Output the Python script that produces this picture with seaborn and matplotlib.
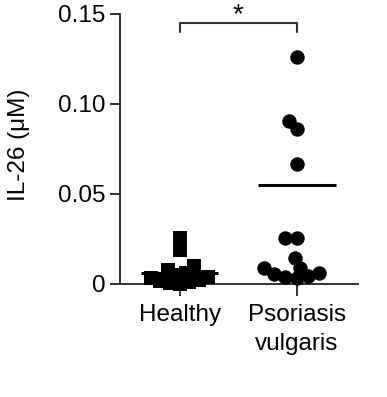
import numpy as np
import pandas as pd
import seaborn as sns
import matplotlib.pyplot as plt
from matplotlib.transforms import Affine2D

# -------------------------------------------------------------------
# Data (IL-26 concentration, µM)
# -------------------------------------------------------------------
groups = ["Healthy", "Psoriasis\nvulgaris"]

healthy = [0.0, 0.0005, 0.001, 0.0015, 0.002, 0.003, 0.004, 0.005,
           0.006, 0.0078, 0.0097, 0.0189, 0.0254]
psoriasis = [0.003, 0.004, 0.0045, 0.0056, 0.0063, 0.0089, 0.0089,
             0.0143, 0.0254, 0.0254, 0.0667, 0.086, 0.0906, 0.126]

# horizontal bars as drawn in the figure
bar_values = [0.006, 0.055]

df = pd.DataFrame({
    "group": [groups[0]] * len(healthy) + [groups[1]] * len(psoriasis),
    "il26": healthy + psoriasis,
})

# -------------------------------------------------------------------
# Plot
# -------------------------------------------------------------------
sns.set_style("ticks")
plt.rcParams["font.family"] = ["Liberation Sans", "DejaVu Sans"]
plt.rcParams["text.color"] = "black"
plt.rcParams["axes.labelcolor"] = "black"
plt.rcParams["xtick.color"] = "black"
plt.rcParams["ytick.color"] = "black"

fig = plt.figure(figsize=(3.87, 3.97), dpi=100)
ax = fig.add_axes([0.31, 0.285, 0.615, 0.68])

# swarm layout is computed with a smaller marker so the points overlap
# like in the original figure; the drawn marker is then enlarged
markers = ["s", "o"]
layout_sizes = [6.8, 8.0]
scales = [1.45, 1.3]
for grp, mk, sz, s in zip(groups, markers, layout_sizes, scales):
    n0 = len(ax.collections)
    sns.swarmplot(data=df[df["group"] == grp], x="group", y="il26",
                  order=groups, marker=mk, color="black", size=sz,
                  linewidth=0, ax=ax)
    for coll in ax.collections[n0:]:
        coll.set_clip_on(False)
        if len(coll.get_paths()):
            p = coll.get_paths()[0]
            coll.set_paths([p.transformed(Affine2D().scale(s))])

# mean bars
ax.hlines(bar_values, [i - 0.33 for i in range(2)], [i + 0.33 for i in range(2)],
          color="black", linewidth=2.2, zorder=5)

ax.set_xlim(-0.51, 1.52)
ax.set_ylim(0, 0.15)
ax.set_yticks([0, 0.05, 0.10, 0.15])
ax.set_yticklabels(["0", "0.05", "0.10", "0.15"])
ax.set_xlabel("")
ax.set_ylabel("IL-26 (\u03bcM)", fontsize=17.5)
ax.yaxis.set_label_coords(-0.38, 0.515)
ax.tick_params(axis="both", labelsize=17.5, width=1.3, color="#222222")
ax.tick_params(axis="y", pad=3, length=7.5)
ax.tick_params(axis="x", pad=6, length=8.5)
for lbl in ax.get_xticklabels():
    lbl.set_linespacing(1.4)

sns.despine(ax=ax)
for side in ["left", "bottom"]:
    ax.spines[side].set_linewidth(1.3)
    ax.spines[side].set_color("#222222")

# significance bracket
ax.plot([0, 0, 1, 1], [0.140, 0.145, 0.145, 0.140], color="#333333",
        linewidth=1.5, clip_on=False)
ax.text(0.5, 0.1455, "*", ha="center", va="baseline", fontsize=20, clip_on=False)

plt.savefig("out.png", dpi=100)
